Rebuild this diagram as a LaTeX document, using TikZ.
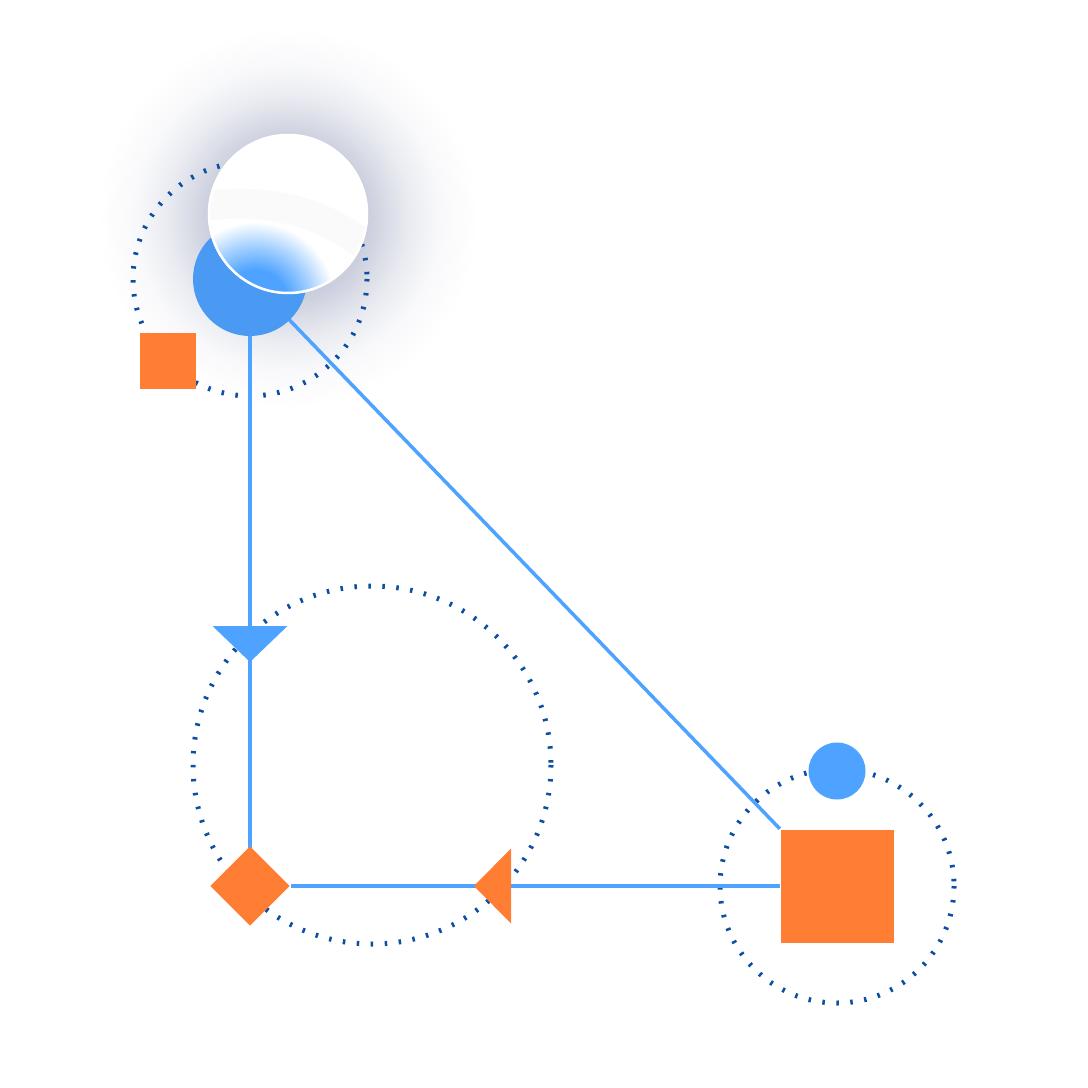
\documentclass[tikz,border=0pt]{standalone}
\usepackage{tikz}
\usetikzlibrary{shapes.geometric,backgrounds}
\definecolor{linkblue}{HTML}{4DA3FF}
\definecolor{hubblue}{HTML}{4A9AF4}
\definecolor{tagorange}{HTML}{FF7E33}
\definecolor{ringblue}{HTML}{0B4EA2}
\definecolor{haze}{HTML}{CBCEDD}
\pgfdeclareradialshading{glow}{\pgfpoint{0bp}{0bp}}{color(0bp)=(haze); color(10.5bp)=(haze); color(13bp)=(haze!72!white); color(16bp)=(haze!40!white); color(20bp)=(haze!13!white); color(25bp)=(white)}
\pgfdeclareradialshading{blur}{\pgfpoint{0bp}{0bp}}{color(0bp)=(linkblue); color(10bp)=(linkblue); color(17bp)=(linkblue!55!white); color(25bp)=(white)}
\begin{document}
\begin{tikzpicture}[x=0.1mm,y=-0.1mm]
\tikzstyle{ring}=[draw=ringblue, line width=0.5mm, dash pattern=on 0.25mm off 1.15mm]
\tikzstyle{link}=[draw=linkblue, line width=0.35mm]
\tikzstyle{tile}=[rectangle, fill=tagorange, inner sep=0]
\useasboundingbox (0,0) rectangle (1088,1088);

    \node[circle, fill=hubblue, inner sep=0, minimum size=11.4mm] (hub) at (250,279) {};
\node[tile, minimum size=5.6mm] (tag) at (168,361) {};

 \node[tile, minimum size=11.3mm] (sink) at (837,886) {};
\node[circle, fill=linkblue, inner sep=0, minimum size=5.7mm] (dot) at (837,771) {};

\node[diamond, fill=tagorange, inner sep=0, minimum size=8mm] (corner) at (250,886) {};

\begin{scope}[on background layer]
\shade[shading=glow] (288,218) circle (190);
\draw[ring] (hub.center) circle (117);
\draw[ring] (372,765) circle (179);
\draw[ring] (sink.center) circle (117);
\draw[link] (hub.center)--(corner.center);
\draw[link] (hub.center)--(sink.north west);
\draw[link] (corner)--(sink);
\end{scope}

\coordinate (downtip) at (250,662);
\fill[linkblue] (downtip) -- ++(-37.5,-36) -- ++(75,0) -- cycle;
\coordinate (lefttip) at (474,886);
\fill[tagorange] (lefttip) -- ++(37,-37.5) -- ++(0,75) -- cycle;

\node[circle, fill=white, inner sep=0, minimum size=16mm] (glass) at (288,214) {};
\begin{scope}
\clip (glass.center) circle (80);
\draw[haze!30, line width=3mm, opacity=0.3] (205,206) .. controls (265,198) and (325,210) .. (372,252);
\shade[shading=blur] (255,302) circle (80);
\end{scope}
\draw[white, line width=0.25mm] (glass.center) circle (79);
\end{tikzpicture}
\end{document}
